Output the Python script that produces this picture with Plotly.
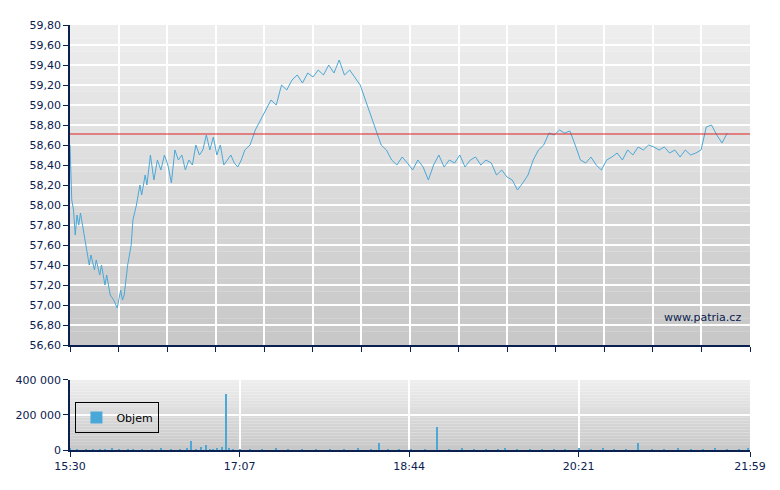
import plotly.graph_objects as go
from plotly.subplots import make_subplots

# cena (minuty od 15:30)
t_price = [0, 1, 2, 3, 4, 5, 6, 8, 9, 11, 12, 14, 15, 17, 18, 20, 21, 23, 25, 27, 29, 30, 31, 33, 35, 36, 38, 40,
           41, 43, 44, 46, 48, 50, 52, 54, 56, 58, 60, 62, 64, 66, 68, 70, 72, 74, 76, 78, 80, 82, 84, 86,
           88, 90, 92, 94, 96, 98, 100, 103, 106, 109, 112, 115, 118, 121, 124, 127, 130, 133, 136, 139,
           142, 145, 148, 151, 154, 157, 160, 163, 166, 169, 172, 175, 178, 181, 184, 187, 190, 193, 196,
           199, 202, 205, 208, 211, 214, 217, 220, 223, 226, 229, 232, 235, 238, 241, 244, 247, 250, 253,
           256, 259, 262, 265, 268, 271, 274, 277, 280, 283, 286, 289, 292, 295, 298, 301, 304, 307, 310,
           313, 316, 319, 322, 325, 328, 331, 334, 337, 340, 343, 346, 349, 352, 355, 358, 361, 364, 367,
           370, 373, 376, 379, 382, 385, 389]
price = [58.60, 58.05, 57.95, 57.70, 57.90, 57.80, 57.92, 57.70, 57.60, 57.40, 57.50, 57.35, 57.45, 57.30, 57.40,
         57.20, 57.30, 57.10, 57.05, 56.97, 57.15, 57.05, 57.10, 57.40, 57.60, 57.85, 58.00, 58.20,
         58.10, 58.30, 58.20, 58.50, 58.25, 58.45, 58.35, 58.50, 58.40, 58.22, 58.55, 58.45, 58.50, 58.35,
         58.45, 58.40, 58.60, 58.50, 58.55, 58.70, 58.55, 58.68, 58.50, 58.60, 58.40, 58.45, 58.50, 58.42,
         58.38, 58.45, 58.55, 58.60, 58.75, 58.85, 58.95, 59.05, 59.00, 59.20, 59.15, 59.25, 59.30, 59.22,
         59.32, 59.28, 59.35, 59.30, 59.40, 59.32, 59.45, 59.30, 59.35, 59.28, 59.20, 59.05, 58.90, 58.75,
         58.60, 58.55, 58.45, 58.40, 58.48, 58.42, 58.35, 58.45, 58.38, 58.25, 58.40, 58.50, 58.38, 58.45,
         58.42, 58.50, 58.38, 58.45, 58.48, 58.40, 58.45, 58.42, 58.30, 58.35, 58.28, 58.25, 58.15, 58.22,
         58.30, 58.45, 58.55, 58.60, 58.72, 58.70, 58.75, 58.72, 58.74, 58.60, 58.45, 58.42, 58.48, 58.40,
         58.35, 58.45, 58.48, 58.52, 58.45, 58.55, 58.50, 58.58, 58.55, 58.60, 58.58, 58.55, 58.58, 58.52,
         58.55, 58.48, 58.55, 58.50, 58.52, 58.55, 58.78, 58.80, 58.70, 58.62, 58.72]
ref_price = 58.71

# objem
t_vol = [0, 4, 9, 13, 17, 20, 24, 28, 33, 36, 41, 47, 52, 58, 63, 67, 69, 72, 75, 78, 80, 82, 84, 87, 89, 91,
         93, 97, 103, 110, 118, 125, 133, 141, 149, 157, 165, 172, 177, 182, 188, 195, 203, 210, 217, 224,
         231, 238, 245, 249, 256, 263, 270, 277, 283, 291, 298, 305, 311, 318, 325, 333, 340, 348, 355,
         362, 369, 376, 383, 388]
vol = [12000, 6000, 8000, 5000, 9000, 7000, 15000, 6000, 8000, 5000, 7000, 6000, 14000, 9000, 5000, 12000,
       50000, 8000, 20000, 28000, 6000, 9000, 10000, 16000, 320000, 10000, 7000, 8000, 6000, 9000, 12000,
       7000, 6000, 8000, 5000, 9000, 11000, 7000, 40000, 6000, 9000, 8000, 5000, 130000, 9000, 12000, 6000,
       8000, 7000, 10000, 6000, 9000, 5000, 8000, 9000, 12000, 6000, 14000, 7000, 9000, 40000, 8000, 6000,
       10000, 7000, 9000, 12000, 6000, 8000, 15000]

x_labels = ["15:30", "17:07", "18:44", "20:21", "21:59"]
x_label_pos = [0, 97, 194, 291, 389]

axis_col = "#0a2050"
blue = "#4aa8d8"

fig = make_subplots(rows=2, cols=1, row_heights=[0.78, 0.22], vertical_spacing=0.08)

fig.add_trace(go.Scatter(x=t_price, y=price, mode="lines", line=dict(color=blue, width=1),
                         showlegend=False), row=1, col=1)
fig.add_trace(go.Bar(x=t_vol, y=vol, width=0.6, marker=dict(color=blue, line=dict(width=0)),
                     name="Objem"), row=2, col=1)

# gradient pozadi
n = 24
for ax in ["", "2"]:
    for i in range(n):
        g = int(238 - (238 - 200) * i / (n - 1))
        fig.add_shape(type="rect", xref="x%s domain" % ax, yref="y%s domain" % ax,
                      x0=0, x1=1, y0=1 - (i + 1) / n, y1=1 - i / n,
                      fillcolor="rgb(%d,%d,%d)" % (g, g, g), line_width=0, layer="below")

fig.add_shape(type="line", xref="x domain", yref="y", x0=0, x1=1, y0=ref_price, y1=ref_price,
              line=dict(color="#e02020", width=1))

fig.update_layout(
    width=780, height=490,
    margin=dict(l=62, r=38, t=17, b=48, autoexpand=False),
    paper_bgcolor="white", plot_bgcolor="rgba(0,0,0,0)",
    separators=", ",
    font=dict(family="DejaVu Sans", size=11, color=axis_col),
    bargap=0,
    legend=dict(x=0.008, y=0.04, xanchor="left", yanchor="bottom", bgcolor="rgba(0,0,0,0)",
                bordercolor="black", borderwidth=1, font=dict(size=11, color="black")),
)
fig.update_layout(yaxis=dict(domain=[0.247, 1]), yaxis2=dict(domain=[0, 0.165]))

grid = dict(showgrid=True, gridcolor="white", gridwidth=1.5, showline=True, linecolor=axis_col,
            linewidth=1.5, ticks="outside", ticklen=5, tickcolor=axis_col, zeroline=False,
            automargin=False)
fig.update_xaxes(range=[0, 389], **grid)
fig.update_xaxes(tickvals=[389 * i / 14 for i in range(15)], showticklabels=False, row=1, col=1)
fig.update_xaxes(tickvals=x_label_pos, ticktext=x_labels, row=2, col=1)
fig.update_yaxes(range=[56.6, 59.8], dtick=0.2, tickformat=".2f", row=1, col=1, **grid)
fig.update_yaxes(range=[0, 400000], tickvals=[0, 200000, 400000], tickformat=",d", row=2, col=1, **grid)

fig.add_annotation(text="www.patria.cz", xref="x domain", yref="y domain", x=0.99, y=0.06,
                   xanchor="right", yanchor="bottom", showarrow=False, font=dict(size=11, color=axis_col))

fig.write_html("out.html")
